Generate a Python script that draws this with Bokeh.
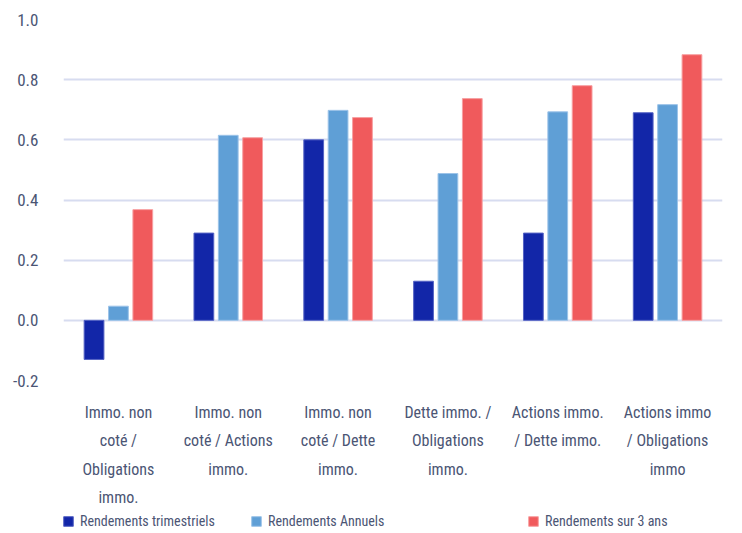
from bokeh.plotting import figure
from bokeh.models import FactorRange, Legend, LegendItem, ColumnDataSource, CustomJSTickFormatter
from bokeh.transform import dodge
from bokeh.layouts import column
from bokeh.embed import file_html
from bokeh.resources import INLINE

categories = [
    "Immo. non\ncoté /\nObligations\nimmo.",
    "Immo. non\ncoté / Actions\nimmo.",
    "Immo. non\ncoté / Dette\nimmo.",
    "Dette immo. /\nObligations\nimmo.",
    "Actions immo.\n/ Dette immo.",
    "Actions immo\n/ Obligations\nimmo",
]
trimestriels = [-0.13, 0.29, 0.60, 0.13, 0.29, 0.69]
annuels = [0.047, 0.615, 0.698, 0.488, 0.693, 0.717]
trois_ans = [0.368, 0.607, 0.674, 0.737, 0.780, 0.883]
series_names = ["Rendements trimestriels", "Rendements Annuels", "Rendements sur 3 ans"]
y_ticks = [-0.2, 0.0, 0.2, 0.4, 0.6, 0.8, 1.0]

colors = ["#1226A8", "#5F9FD6", "#F05A5C"]
outlines = ["#5563c4", "#9cc3e8", "#f7a0a2"]
FONT = "Roboto Condensed"
TXT = "#4b5574"

source = ColumnDataSource(dict(cat=categories, t=trimestriels, a=annuels, r=trois_ans))

p = figure(width=734, height=506, frame_width=659, frame_height=361,
           x_range=FactorRange(factors=categories),
           y_range=(-0.2, 1.0), output_backend="svg", toolbar_location=None,
           min_border_left=63, min_border_right=12, min_border_top=19, min_border_bottom=126)
p.outline_line_color = None
p.background_fill_color = "white"

for key, off, c, oc in zip(["t", "a", "r"], [-0.222, 0.0, 0.222], colors, outlines):
    p.vbar(x=dodge("cat", off, range=p.x_range), top=key, bottom=0, width=0.18,
           source=source, fill_color=c, line_color=oc, line_width=1)

p.yaxis.ticker = y_ticks
p.yaxis.formatter = CustomJSTickFormatter(code="return tick.toFixed(1);")
for ax in (p.xaxis, p.yaxis):
    ax.axis_line_color = None
    ax.major_tick_line_color = None
    ax.minor_tick_line_color = None
    ax.major_tick_out = 0
    ax.major_tick_in = 0
    ax.major_label_text_font = FONT
    ax.major_label_text_color = TXT
p.yaxis.major_label_text_font_size = "17px"
p.xaxis.major_label_text_font_size = "16px"
p.yaxis.major_label_standoff = 25
p.xaxis.major_label_standoff = 22
p.xaxis.major_label_text_line_height = 1.5

p.xgrid.grid_line_color = None
p.ygrid.grid_line_color = "#d7dcf0"
p.ygrid.grid_line_width = 2

# legend strip (proxy renderers kept outside its visible range)
lp = figure(width=734, height=19, x_range=(0, 1), y_range=(0, 1), output_backend="svg",
            toolbar_location=None, min_border=0)
lp.axis.visible = False
lp.grid.visible = False
lp.outline_line_color = None
xs = [-1, 187, 464]
for name, c, oc, x in zip(series_names, colors, outlines, xs):
    r = lp.vbar(x=[-10], top=[-10], bottom=[-11], width=0.1, fill_color=c, line_color=oc, line_width=1)
    lg = Legend(items=[LegendItem(label=name, renderers=[r])], location=(x, 0),
                orientation="horizontal", padding=0, margin=0, spacing=0,
                glyph_width=12, glyph_height=12, label_standoff=6,
                label_text_font=FONT, label_text_font_size="14px",
                label_text_color=TXT, border_line_color=None,
                background_fill_alpha=0)
    lp.add_layout(lg, "center")

layout = column(p, lp, spacing=0)
open("out.html", "w").write(file_html(layout, INLINE))
